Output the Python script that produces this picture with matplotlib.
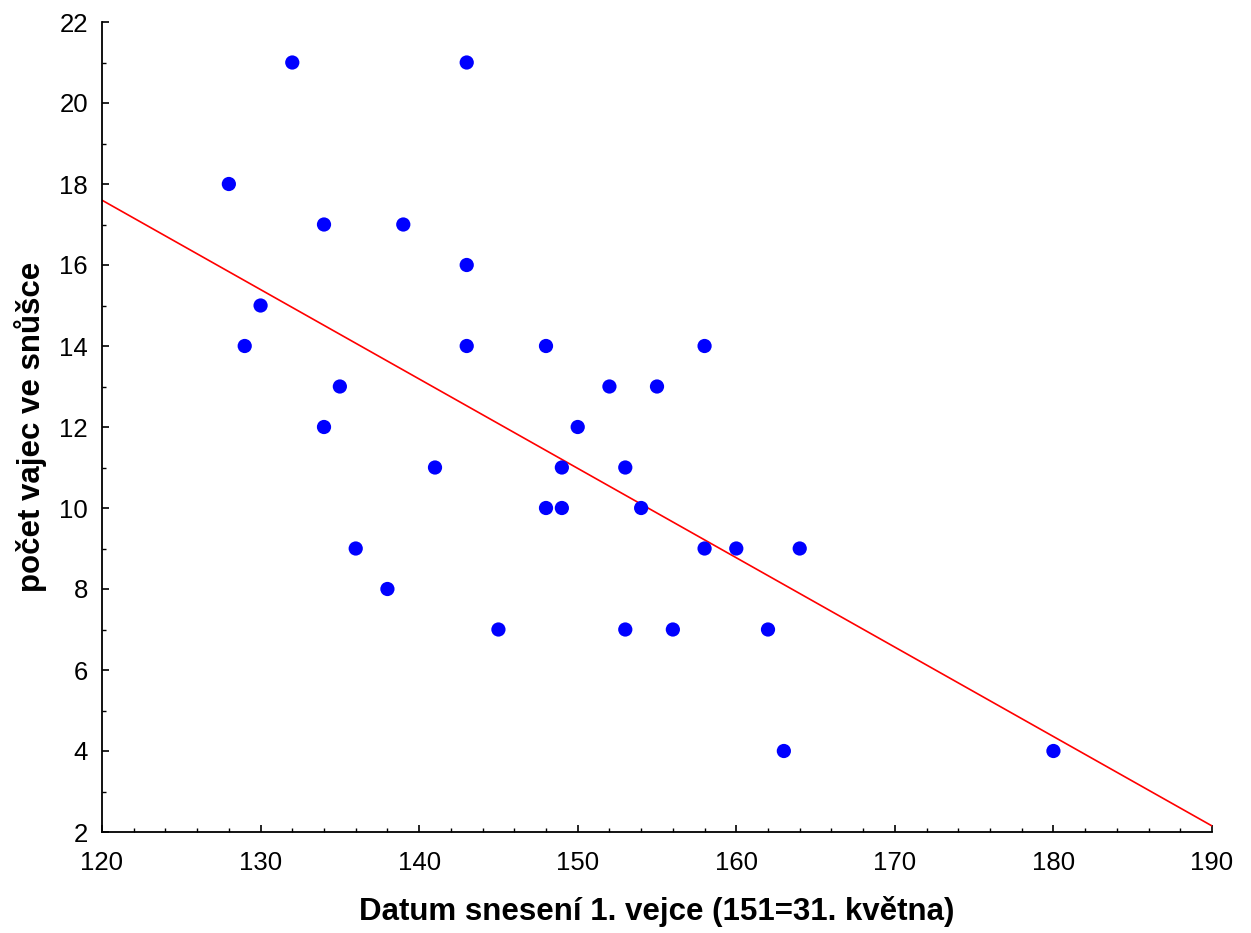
import numpy as np
import matplotlib
matplotlib.use("Agg")
import matplotlib.pyplot as plt
from matplotlib.ticker import MultipleLocator

plt.rcParams['font.family'] = ['Liberation Sans', 'DejaVu Sans']

datum = [128, 129, 130, 132, 134, 134, 135, 136, 138, 139, 141, 143, 143, 143,
         145, 148, 148, 149, 149, 150, 152, 153, 153, 154, 155, 156, 158, 158,
         160, 162, 163, 164, 180]
vejce = [18, 14, 15, 21, 17, 12, 13, 9, 8, 17, 11, 21, 16, 14,
         7, 14, 10, 11, 10, 12, 13, 11, 7, 10, 13, 7, 14, 9,
         9, 7, 4, 9, 4]

# regression line (value at x=120 and x=190)
trend_x = [120, 190]
trend_y = [17.6, 2.15]

x_label = "Datum snesení 1. vejce (151=31. května)"
y_label = "počet vajec ve snůšce"

fig = plt.figure(figsize=(12.51, 9.33), dpi=100)
ax = fig.add_axes([102 / 1251, 1 - 832 / 933, 1110 / 1251, 810 / 933])

ax.plot(trend_x, trend_y, color='red', lw=1.2, zorder=2)
ax.scatter(datum, vejce, s=105, color='#0000ff', edgecolors='none', zorder=3)

ax.set_xlim(120, 190)
ax.set_ylim(2, 22)
ax.xaxis.set_major_locator(MultipleLocator(10))
ax.xaxis.set_minor_locator(MultipleLocator(2))
ax.yaxis.set_major_locator(MultipleLocator(2))
ax.yaxis.set_minor_locator(MultipleLocator(1))
ax.spines['top'].set_visible(False)
ax.spines['right'].set_visible(False)
for s in ['left', 'bottom']:
    ax.spines[s].set_linewidth(1.3)
ax.tick_params(which='major', direction='in', length=5, width=1.2, labelsize=18.5)
ax.tick_params(axis='x', which='major', pad=13.5)
ax.tick_params(axis='y', which='major', pad=10)
ax.tick_params(which='minor', direction='in', length=3, width=1.0)
ax.set_xlabel(x_label, fontsize=22.5, fontweight='bold', labelpad=15)
ax.set_ylabel(y_label, fontsize=22.5, fontweight='bold', labelpad=9)

fig.savefig("out.png", dpi=100)
